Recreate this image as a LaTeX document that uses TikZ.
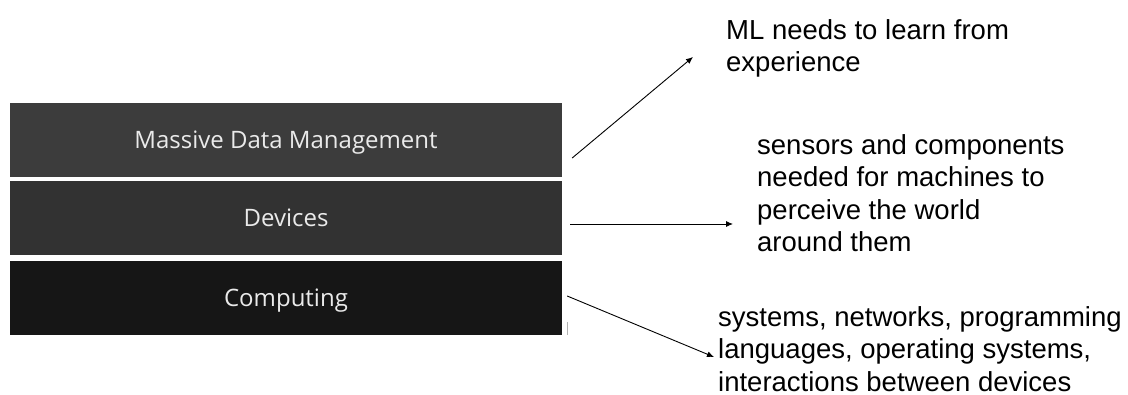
\documentclass[tikz,border=0pt]{standalone}
\usepackage{fontspec}
\setmainfont{Liberation Sans}
\newfontfamily\boxfont{Open Sans}
\usetikzlibrary{arrows.meta}
\definecolor{boxA}{HTML}{3C3C3C}
\definecolor{boxB}{HTML}{323232}
\definecolor{boxC}{HTML}{161616}
\definecolor{boxtext}{HTML}{EAEAEA}
\tikzset{
  layer/.style={draw=none, minimum width=552pt, minimum height=74pt, inner sep=0pt,
    font=\boxfont\fontsize{24}{28}\selectfont, text=boxtext,
    text height=17pt, text depth=0pt},
  note/.style={anchor=north west, inner sep=0pt, align=left,
    font=\fontsize{27.5}{32.5}\selectfont},
  conn/.style={line width=0.9pt, -{Latex[length=7pt,width=6pt]}}
}
\begin{document}
\begin{tikzpicture}[x=1pt,y=-1pt]
\useasboundingbox (0,0) rectangle (1128,395);
\node[layer, fill=boxA] (mdm) at (286,140) {Massive Data Management};
\node[layer, fill=boxB] (dev) at (286,218) {Devices};
\node[layer, fill=boxC] (comp) at (286,298) {Computing};
\draw[gray!60, line width=0.8pt] (567,322) -- (567,335);

\node[note] (t1) at (726,19) {ML needs to learn from\\experience};
\node[note] (t2) at (757,134) {sensors and components\\needed for machines to\\perceive the world\\around them};
\node[note] (t3) at (718,306) {systems, networks, programming\\languages, operating systems,\\interactions between devices};

\coordinate (a1s) at ([shift={(10,18)}]mdm.east);
\coordinate (a1e) at (693,57);
\coordinate (a2s) at ([shift={(8,6)}]dev.east);
\coordinate (a2e) at (733,224);
\coordinate (a3s) at ([shift={(5,-2)}]comp.east);
\coordinate (a3e) at (714,357);
\draw[conn] (a1s) -- (a1e);
\draw[conn] (a2s) -- (a2e);
\draw[conn] (a3s) -- (a3e);
\end{tikzpicture}
\end{document}
